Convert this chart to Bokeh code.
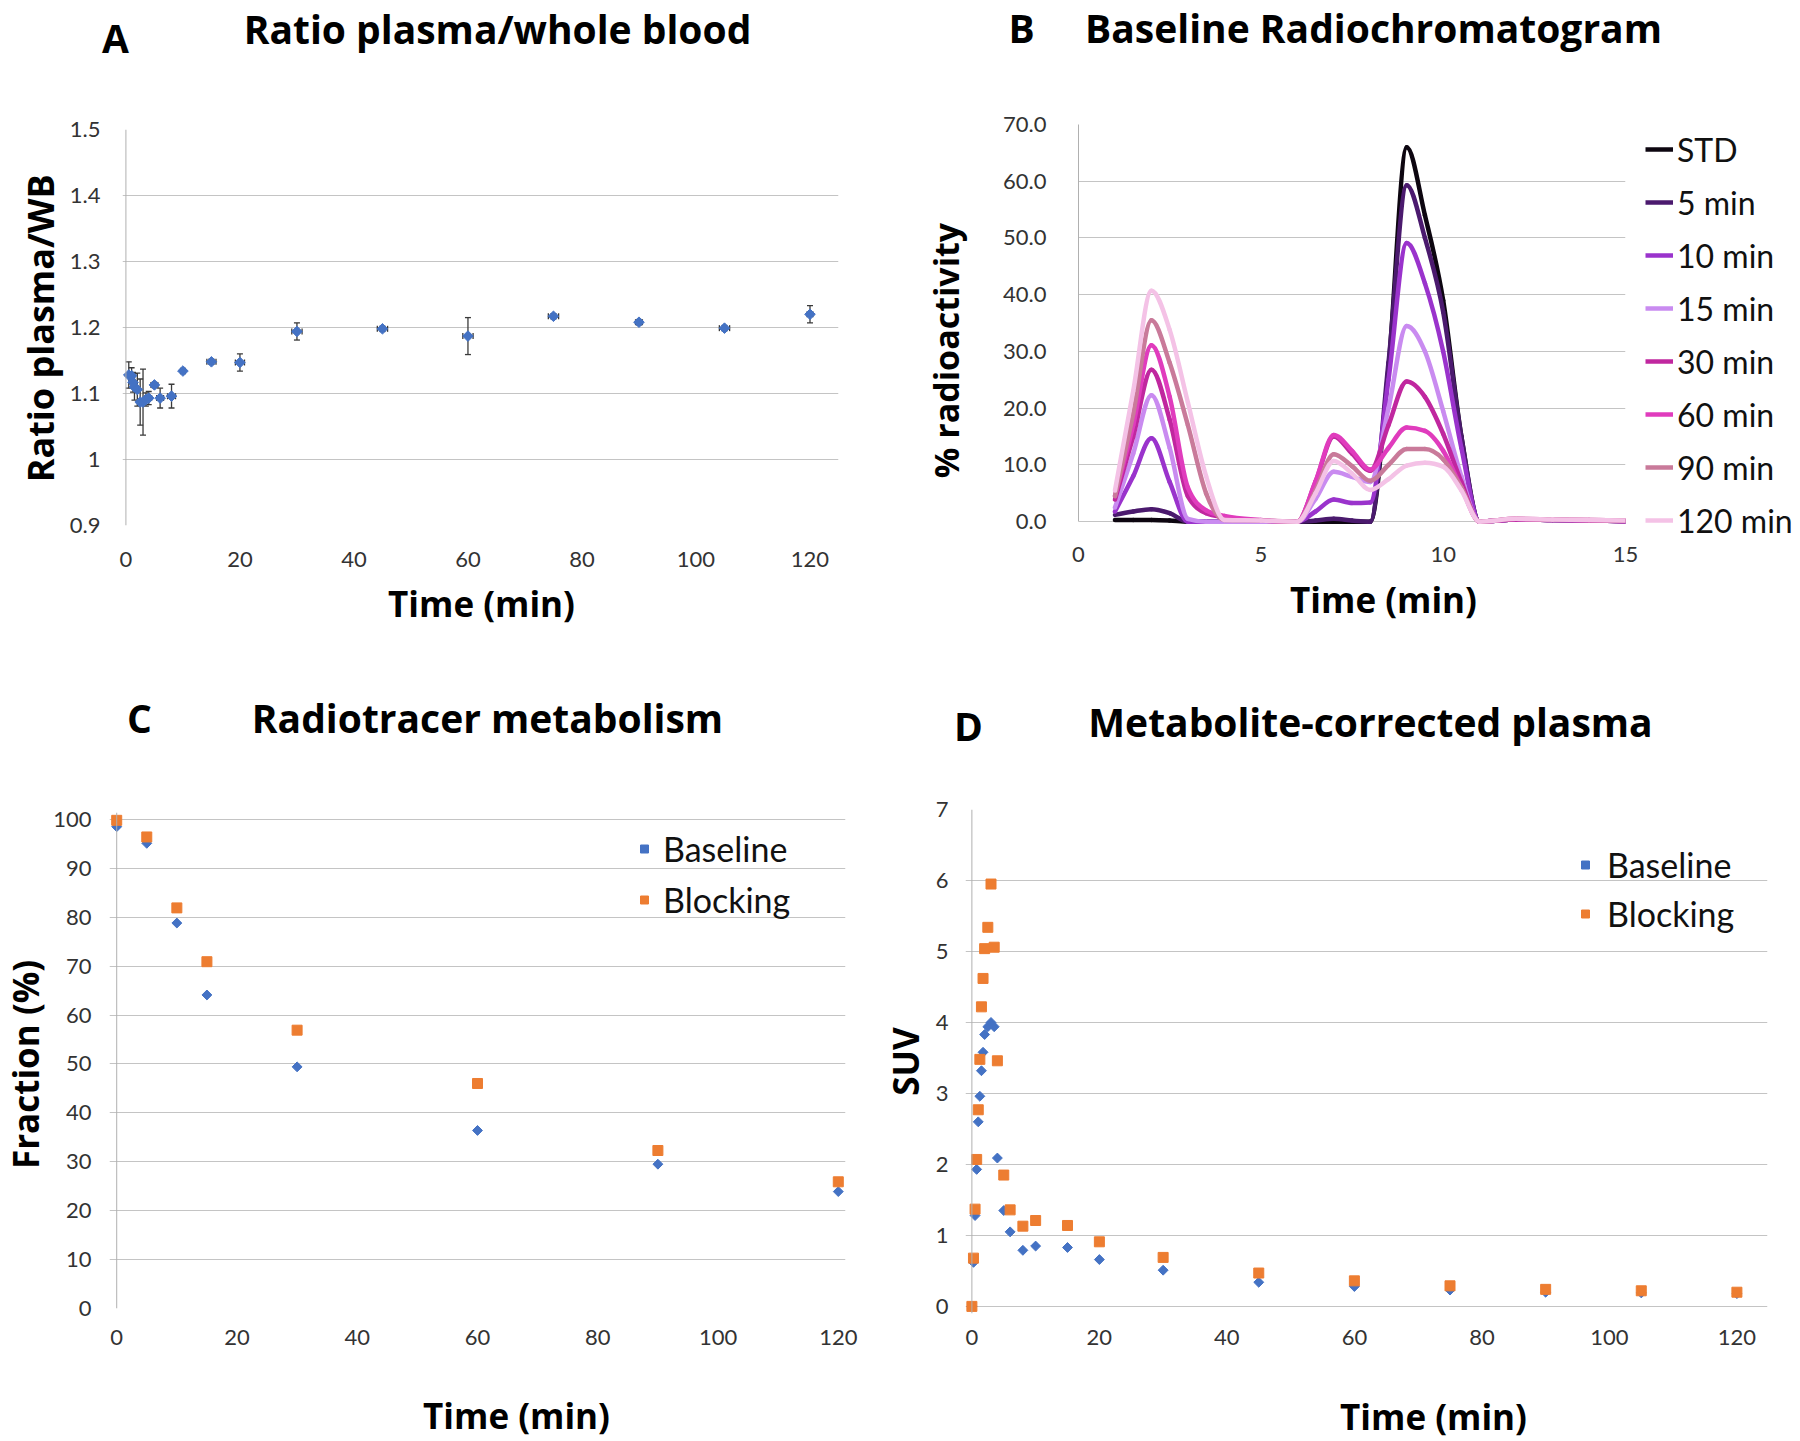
import math
from bokeh.plotting import figure
from bokeh.models import (ColumnDataSource, Whisker, Label, Span, FixedTicker,
                          Legend, LegendItem, TeeHead, Range1d)
from bokeh.layouts import row, column
from bokeh.embed import file_html
from bokeh.resources import INLINE

# ---------------- DATA ----------------
# Panel A: ratio plasma / whole blood
ratio_time = [0.5, 1, 1.25, 1.5, 2, 2.5, 3, 3.5, 4, 5, 6, 8, 10, 15, 20, 30, 45, 60, 75, 90, 105, 120]
ratio_value = [1.128, 1.127, 1.117, 1.110, 1.106, 1.087, 1.087, 1.091, 1.093, 1.113, 1.093, 1.096,
               1.134, 1.148, 1.147, 1.194, 1.198, 1.187, 1.217, 1.208, 1.199, 1.220]
ratio_sd = [0.02, 0.012, 0.015, 0.02, 0.025, 0.035, 0.05, 0.01, 0.01, 0.004, 0.015, 0.018,
            0.004, 0.004, 0.013, 0.013, 0.004, 0.028, 0.004, 0.004, 0.004, 0.013]
ratio_time_sd = [0.3, 0.3, 0.3, 0.3, 0.3, 0.4, 0.4, 0.4, 0.5, 0.6, 0.6, 0.7,
                 0.3, 0.8, 0.8, 0.9, 0.9, 0.9, 0.9, 0.6, 0.9, 0.5]
ratio_xticks = [0, 20, 40, 60, 80, 100, 120]
ratio_yticks = [0.9, 1, 1.1, 1.2, 1.3, 1.4, 1.5]
ratio_ylabels = ["0.9", "1", "1.1", "1.2", "1.3", "1.4", "1.5"]

# Panel B: baseline radiochromatogram (% radioactivity vs retention time, min)
chrom_time = [1, 1.5, 2, 2.5, 3, 3.5, 4, 5, 6, 6.5, 7, 7.5, 8, 8.5, 9, 9.5, 10, 10.5, 11, 12, 13, 14, 15]
chrom_std = [0.3, 0.3, 0.3, 0.2, 0, 0, 0, 0, 0, 0, 0, 0, 0, 27, 66.0, 54, 39, 15, 0, 0.4, 0.3, 0.2, 0.1]
chrom_5 = [1.2, 1.8, 2.2, 1.5, 0, 0, 0, 0, 0, 0.2, 0.5, 0.2, 0, 28, 59.3, 50, 37, 15, 0, 0.4, 0.3, 0.2, 0.1]
chrom_10 = [1.8, 8, 14.7, 7, 0, 0, 0, 0, 0, 1.8, 3.9, 3.3, 3.4, 25, 49.1, 42, 30, 13, 0, 0.4, 0.3, 0.2, 0.1]
chrom_15 = [2.5, 12, 22.3, 13, 0.5, 0, 0, 0, 0, 4, 8.8, 7.9, 7.0, 20, 34.5, 30, 19.5, 8, 0, 0.4, 0.3, 0.2, 0.1]
chrom_30 = [3.9, 15, 26.8, 18, 4.5, 1.5, 0.8, 0.2, 0, 7, 15.0, 12, 9.0, 17, 24.7, 22, 15.5, 7, 0, 0.4, 0.3, 0.2, 0.1]
chrom_60 = [4.5, 17, 31.1, 22, 6, 2, 1.0, 0.3, 0, 7.1, 15.3, 12.5, 9.2, 13, 16.6, 16, 12.5, 6, 0, 0.5, 0.4, 0.3, 0.2]
chrom_90 = [4.5, 19, 35.5, 28, 17, 5, 0.3, 0.2, 0, 5.5, 11.9, 9.8, 7.2, 10, 12.8, 12.8, 11, 6, 0, 0.5, 0.4, 0.3, 0.2]
chrom_120 = [5.5, 23, 40.7, 33.8, 21, 8, 0.3, 0.2, 0, 5, 10.7, 8.5, 5.6, 7.5, 9.9, 10.4, 9.7, 5.5, 0, 0.5, 0.4, 0.3, 0.2]
chrom_names = ["STD", "5 min", "10 min", "15 min", "30 min", "60 min", "90 min", "120 min"]
chrom_xticks = [0, 5, 10, 15]
chrom_yticks = [0, 10, 20, 30, 40, 50, 60, 70]
chrom_ylabels = ["0.0", "10.0", "20.0", "30.0", "40.0", "50.0", "60.0", "70.0"]

# Panel C: radiotracer metabolism (parent fraction %)
frac_time = [0, 5, 10, 15, 30, 60, 90, 120]
frac_baseline = [98.5, 95.1, 78.8, 64.1, 49.4, 36.4, 29.5, 23.9]
frac_blocking = [99.8, 96.4, 81.9, 70.9, 56.9, 46.0, 32.3, 25.9]
frac_xticks = [0, 20, 40, 60, 80, 100, 120]
frac_yticks = [0, 10, 20, 30, 40, 50, 60, 70, 80, 90, 100]

# Panel D: metabolite-corrected plasma (SUV)
suv_time = [0, 0.25, 0.5, 0.75, 1, 1.25, 1.5, 1.75, 2, 2.5, 3, 3.5, 4, 5, 6, 8, 10, 15, 20,
            30, 45, 60, 75, 90, 105, 120]
suv_baseline = [0, 0.62, 1.28, 1.93, 2.60, 2.96, 3.32, 3.58, 3.83, 3.94, 4.00, 3.94, 2.09, 1.35,
                1.05, 0.79, 0.85, 0.83, 0.66, 0.51, 0.34, 0.28, 0.23, 0.20, 0.19, 0.18]
suv_blocking = [0, 0.68, 1.37, 2.07, 2.77, 3.48, 4.22, 4.62, 5.04, 5.34, 5.95, 5.06, 3.46, 1.85,
                1.36, 1.13, 1.21, 1.14, 0.91, 0.69, 0.47, 0.36, 0.29, 0.24, 0.22, 0.20]
suv_xticks = [0, 20, 40, 60, 80, 100, 120]
suv_yticks = [0, 1, 2, 3, 4, 5, 6, 7]

# ---------------- STYLE ----------------
TITLE_FONT = "Open Sans"
TICK_FONT = "Lato"
BLUE = "#4472C4"
ORANGE = "#ED7D31"
GRID = "#c4c4c4"
AXIS = "#b0b0b0"
TICK_COLOR = "#333333"
CHROM_COLORS = ["#0d0610", "#4b1a6e", "#9a33cc", "#c98bf0", "#c0279f", "#e03cbd", "#c97a9a", "#f4c2e6"]
TITLE_SIZE = 39
AXT_SIZE = 35
BASE_SHIFT = 0.38   # anchor-to-baseline correction, in em


def strip(w, h, flip=True):
    """A bare canvas whose data units equal pixels, for free text / legend keys."""
    yr = Range1d(h, 0) if flip else Range1d(0, h)
    p = figure(width=w, height=h, x_range=Range1d(0, w), y_range=yr,
               output_backend="svg", toolbar_location=None, title=None,
               x_axis_location=None, y_axis_location=None, min_border=0)
    p.outline_line_color = None
    p.grid.visible = False
    p.background_fill_color = "white"
    p.border_fill_color = "white"
    return p


def put(p, x, y, text, size, rotated=False):
    s = BASE_SHIFT * size
    if rotated:
        ax, ay, ang = x - s, y, math.pi / 2
    else:
        ax, ay, ang = x, y - s, 0.0
    p.add_layout(Label(x=ax, y=ay, text=text, text_font=TITLE_FONT, text_font_size=f"{size}px",
                       text_font_style="bold", text_color="black", text_align="center",
                       text_baseline="alphabetic", angle=ang, angle_units="rad"))


def make_plot(W, H, L, R, T, B, xr, yr, xticks, yticks, xstand, ystand, ylabels=None,
              axis_span=True):
    p = figure(width=W, height=H, x_range=xr, y_range=yr, output_backend="svg",
               toolbar_location=None, title=None, min_border_left=L, min_border_right=R,
               min_border_top=T, min_border_bottom=B)
    p.outline_line_color = None
    p.background_fill_color = "white"
    p.border_fill_color = "white"
    for ax in (p.xaxis[0], p.yaxis[0]):
        ax.axis_line_color = None
        ax.major_tick_line_color = None
        ax.minor_tick_line_color = None
        ax.major_tick_out = 0
        ax.major_tick_in = 0
        ax.major_label_text_font = TICK_FONT
        ax.major_label_text_font_size = "22px"
        ax.major_label_text_color = TICK_COLOR
    p.xaxis[0].ticker = FixedTicker(ticks=xticks)
    p.yaxis[0].ticker = FixedTicker(ticks=yticks)
    p.xaxis[0].major_label_standoff = xstand
    p.yaxis[0].major_label_standoff = ystand
    if ylabels is not None:
        p.yaxis[0].major_label_overrides = {t: s for t, s in zip(yticks, ylabels)}
    p.xgrid.grid_line_color = None
    p.ygrid.ticker = p.yaxis[0].ticker
    p.ygrid.grid_line_color = GRID
    p.ygrid.grid_line_width = 1
    if axis_span:
        p.add_layout(Span(location=0, dimension="height", line_color=AXIS, line_width=1))
    else:
        p.yaxis[0].axis_line_color = AXIS
        p.yaxis[0].bounds = (yticks[0], yticks[-1])
    return p


def panel(W, H, Ht, Hb, Wl, middle, title_items, ylab, xlab):
    """title strip on top, y-title strip at left of the plot, x-title strip below."""
    Hm = H - Ht - Hb
    top = strip(W, Ht)
    for (x, y, t) in title_items:
        put(top, x, y, t, TITLE_SIZE)
    left = strip(Wl, Hm)
    put(left, ylab[0], ylab[1], ylab[2], ylab[3], rotated=True)
    bot = strip(W, Hb)
    put(bot, xlab[0], xlab[1], xlab[2], AXT_SIZE)
    return column(top, row(left, *middle), bot)


def monotone_bezier(xs, ys):
    n = len(xs)
    h = [xs[i + 1] - xs[i] for i in range(n - 1)]
    s = [(ys[i + 1] - ys[i]) / h[i] for i in range(n - 1)]
    m = [0.0] * n
    for i in range(1, n - 1):
        if s[i - 1] * s[i] <= 0:
            m[i] = 0.0
        else:
            pp = (s[i - 1] * h[i] + s[i] * h[i - 1]) / (h[i - 1] + h[i])
            sg = 1.0 if s[i] > 0 else -1.0
            m[i] = sg * min(2 * abs(s[i - 1]), 2 * abs(s[i]), abs(pp))
    m[0] = (3 * s[0] - m[1]) / 2
    m[-1] = (3 * s[-1] - m[-2]) / 2
    seg = dict(x0=[], y0=[], x1=[], y1=[], cx0=[], cy0=[], cx1=[], cy1=[])
    for i in range(n - 1):
        d = h[i] / 3.0
        seg["x0"].append(xs[i]); seg["y0"].append(ys[i])
        seg["x1"].append(xs[i + 1]); seg["y1"].append(ys[i + 1])
        seg["cx0"].append(xs[i] + d); seg["cy0"].append(ys[i] + m[i] * d)
        seg["cx1"].append(xs[i + 1] - d); seg["cy1"].append(ys[i + 1] - m[i + 1] * d)
    return seg


# ---------------- PANEL A ----------------
pA = make_plot(834, 508, 55, 62, 59, 53, (-0.6, 125), (0.9, 1.5),
               ratio_xticks, ratio_yticks, 26, 22, ratio_ylabels)
srcA = ColumnDataSource(dict(
    x=ratio_time, y=ratio_value,
    yl=[v - s for v, s in zip(ratio_value, ratio_sd)],
    yu=[v + s for v, s in zip(ratio_value, ratio_sd)],
    xl=[t - s for t, s in zip(ratio_time, ratio_time_sd)],
    xu=[t + s for t, s in zip(ratio_time, ratio_time_sd)],
))
ERR = "#3a3a3a"
pA.add_layout(Whisker(source=srcA, base="x", upper="yu", lower="yl", dimension="height",
                      line_color=ERR, line_width=1.3,
                      upper_head=TeeHead(size=6, line_color=ERR, line_width=1.3),
                      lower_head=TeeHead(size=6, line_color=ERR, line_width=1.3)))
pA.add_layout(Whisker(source=srcA, base="y", upper="xu", lower="xl", dimension="width",
                      line_color=ERR, line_width=1.3,
                      upper_head=TeeHead(size=6, line_color=ERR, line_width=1.3),
                      lower_head=TeeHead(size=6, line_color=ERR, line_width=1.3)))
pA.scatter("x", "y", source=srcA, marker="square", angle=math.pi / 4, size=7.5,
           fill_color=BLUE, line_color=BLUE)
panelA = panel(900, 690, 70, 112, 66, [pA],
               [(115, 52, "A"), (497, 43, "Ratio plasma/whole blood")],
               (54, 255, "Ratio plasma/WB", 36), (481, 38, "Time (min)"))

# ---------------- PANEL B ----------------
pB = make_plot(670, 504, 108, 15, 54, 28, (0, 15), (-4.37, 70),
               chrom_xticks, chrom_yticks, 0, 32, chrom_ylabels, axis_span=False)
legfig = strip(160, 504, flip=False)
chrom_series = [chrom_std, chrom_5, chrom_10, chrom_15, chrom_30, chrom_60, chrom_90, chrom_120]
itemsB = []
for name, vals, col in zip(chrom_names, chrom_series, CHROM_COLORS):
    seg = monotone_bezier(chrom_time, vals)
    pB.bezier(x0="x0", y0="y0", x1="x1", y1="y1", cx0="cx0", cy0="cy0", cx1="cx1", cy1="cy1",
              source=ColumnDataSource(seg), line_color=col, line_width=4.5, line_cap="round")
    # legend key renderer: same style, no visible data
    key = legfig.line(x=[float("nan")], y=[float("nan")], line_color=col, line_width=4.5)
    itemsB.append(LegendItem(label=name, renderers=[key]))
legB = Legend(items=itemsB, location=(5, 6), glyph_width=28, glyph_height=40,
              label_height=40, label_standoff=4, spacing=13, padding=0, margin=0,
              label_text_font=TICK_FONT, label_text_font_size="32px", label_text_color="#111111",
              background_fill_alpha=0, border_line_color=None)
legfig.add_layout(legB)
panelB = panel(900, 690, 70, 116, 70, [pB, legfig],
               [(121, 42, "B"), (473, 42, "Baseline Radiochromatogram")],
               (58, 270, "% radioactivity", 34), (483, 38, "Time (min)"))

# ---------------- PANEL C ----------------
pC = make_plot(830, 630, 58, 35, 52, 82, (-1.2, 121.2), (0, 101.4),
               frac_xticks, frac_yticks, 21, 18)
rCb = pC.scatter(frac_time, frac_baseline, marker="square", angle=math.pi / 4, size=7,
                 fill_color=BLUE, line_color=BLUE)
rCo = pC.scatter(frac_time, frac_blocking, marker="square", size=10,
                 fill_color=ORANGE, line_color=ORANGE)
legC = Legend(items=[LegendItem(label="Baseline", renderers=[rCb]),
                     LegendItem(label="Blocking", renderers=[rCo])],
              location=(525, 388), glyph_width=20, glyph_height=41, label_height=41,
              label_standoff=9, spacing=10, padding=10, label_text_font=TICK_FONT,
              label_text_font_size="34px", label_text_color="#111111",
              background_fill_alpha=0, border_line_color=None)
pC.add_layout(legC)
panelC = panel(880, 750, 70, 50, 50, [pC],
               [(139, 42, "C"), (487, 42, "Radiotracer metabolism")],
               (38, 320, "Fraction (%)", AXT_SIZE), (516, 38, "Time (min)"))

# ---------------- PANEL D ----------------
pD = make_plot(870, 630, 35, 33, 49, 77, (-1.0, 124.8), (-0.1, 7),
               suv_xticks, suv_yticks, 16, 17)
rDb = pD.scatter(suv_time, suv_baseline, marker="square", angle=math.pi / 4, size=7,
                 fill_color=BLUE, line_color=BLUE)
rDo = pD.scatter(suv_time, suv_blocking, marker="square", size=10,
                 fill_color=ORANGE, line_color=ORANGE)
legD = Legend(items=[LegendItem(label="Baseline", renderers=[rDb]),
                     LegendItem(label="Blocking", renderers=[rDo])],
              location=(610, 379), glyph_width=20, glyph_height=41, label_height=41,
              label_standoff=12, spacing=8, padding=10, label_text_font=TICK_FONT,
              label_text_font_size="34px", label_text_color="#111111",
              background_fill_alpha=0, border_line_color=None)
pD.add_layout(legD)
panelD = panel(920, 750, 70, 50, 50, [pD],
               [(88, 50, "D"), (490, 46, "Metabolite-corrected plasma")],
               (38, 315, "SUV", AXT_SIZE), (553, 39, "Time (min)"))

layout = column(row(panelA, panelB), row(panelC, panelD))
open("out.html", "w").write(file_html(layout, INLINE))
